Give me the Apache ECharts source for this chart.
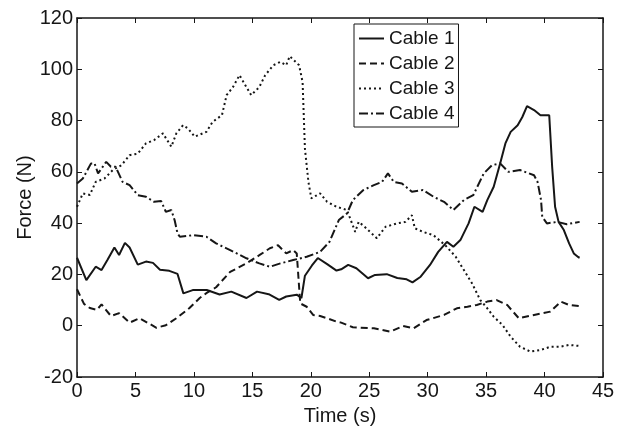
<!DOCTYPE html>
<html>
<head>
<meta charset="utf-8">
<script src="https://cdn.jsdelivr.net/npm/echarts@6/dist/echarts.min.js"></script>
<style>
  html, body { margin: 0; padding: 0; background: #fff; }
  #chart { width: 624px; height: 433px; }
</style>
</head>
<body>
<div id="chart"></div>
<script>
// [time (s), force (N)]
const cable1 = [
  [0, 26.5], [0.8, 17.8], [1.6, 23], [2.1, 21.7], [2.6, 25.6], [3.2, 30.5], [3.6, 27.6],
  [4.1, 32.3], [4.5, 30.5], [5.2, 23.8], [5.9, 25], [6.5, 24.5], [7.1, 21.8], [7.9, 21.4],
  [8.6, 20.2], [9.1, 12.6], [9.9, 13.9], [11.1, 13.9], [12.2, 12.2], [13.2, 13.3], [14.5, 10.8],
  [15.4, 13.3], [16.4, 12.3], [17.3, 10.1], [17.9, 11.4], [18.8, 12.1], [19.2, 10.8],
  [19.5, 19.5], [20.1, 23.5], [20.6, 26.4], [21.4, 24], [22.2, 21.5], [22.6, 22], [23.2, 23.7],
  [23.9, 22.4], [24.9, 18.5], [25.5, 19.8], [26.5, 20.1], [27.4, 18.6], [28.2, 18.1],
  [28.7, 16.9], [29.4, 19.1], [30.2, 23.7], [30.9, 28.8], [31.65, 32.7], [32.2, 30.8],
  [32.8, 33.4], [33.5, 39.9], [34, 46.4], [34.7, 44.4], [35.1, 49], [35.65, 54.2], [36.2, 63.3],
  [36.65, 71.1], [37.1, 75.6], [37.7, 78.2], [38.1, 81.4], [38.5, 85.6], [39.1, 84.1],
  [39.65, 82.1], [40.4, 82.1], [40.65, 62], [40.9, 46.4], [41.2, 40.5], [41.65, 37.3],
  [42.1, 32.1], [42.5, 28.2], [42.9, 26.7], [43, 26.5]
];
const cable2 = [
  [0, 14.2], [0.6, 8.5], [1.1, 6.9], [1.7, 6.2], [2.1, 8.3], [2.9, 3.8], [3.6, 4.9], [4.5, 1.2],
  [5.35, 2.9], [6.1, 1], [6.8, -0.8], [7.6, 0.2], [8.5, 2.9], [9.6, 6.8], [10.5, 10.8],
  [11.1, 12.8], [11.9, 15], [13.1, 21], [14.5, 24.3], [15.6, 27.5], [16.5, 30.2], [17.2, 31.4],
  [17.9, 28.2], [18.5, 29.5], [18.8, 28.2], [19.1, 8.7], [19.65, 7.4], [20.2, 4.2], [20.8, 3.8],
  [21.4, 2.9], [22.2, 1.6], [22.6, 1.2], [23.6, -0.6], [25.4, -1], [26.8, -2.3], [27.9, -0.1],
  [28.8, -1], [29.9, 2.2], [31.4, 4.2], [32.5, 6.8], [33.4, 7.4], [34.2, 8.1], [35.1, 9.4],
  [35.9, 10], [36.8, 8.1], [37.8, 2.9], [39.1, 4.2], [40.5, 5.5], [41.4, 9.4], [42.1, 8.1],
  [43, 7.6]
];
const cable3 = [
  [0, 46.4], [0.5, 51.6], [1.1, 51], [1.6, 56.1], [2.35, 57.4], [3.06, 60.7], [3.8, 62.6],
  [4.5, 66.5], [5.2, 67.1], [5.9, 71.1], [6.6, 72.4], [7.35, 75], [8.07, 69.8], [8.5, 75],
  [9.07, 78.2], [9.5, 76.9], [10.07, 73.7], [11.07, 75.6], [11.6, 79.5], [12.4, 82.1],
  [12.8, 89.9], [13.35, 93.1], [13.9, 97.7], [14.4, 93.8], [14.9, 89.9], [15.6, 93.1],
  [16.1, 97.7], [16.8, 101.6], [17.4, 102.9], [17.9, 101.6], [18.2, 105.1], [19, 101.6],
  [19.3, 95], [19.5, 69], [19.8, 56], [20.05, 49.7], [20.8, 51.6], [21.4, 48.3], [22.2, 46.4],
  [23.1, 45.1], [23.8, 36.6], [24.1, 40.5], [24.6, 38.6], [25.65, 34.1], [26.4, 38.6],
  [27.4, 39.9], [28.1, 40.5], [28.65, 43.1], [28.9, 38], [29.6, 36.6], [30.5, 35.3],
  [31.5, 31.4], [32.4, 26.9], [33.1, 21.7], [33.8, 16.5], [34.5, 10], [35.1, 6.8],
  [35.65, 3.5], [36.4, 0.3], [37.1, -4.3], [37.9, -8.2], [38.8, -10.1], [39.65, -9.5],
  [40.5, -8.2], [41.3, -8.2], [42.1, -7.5], [43, -7.9]
];
const cable4 = [
  [0, 55.5], [0.5, 57.4], [1.2, 63.3], [1.5, 63.3], [1.8, 59.4], [2.5, 63.9], [2.9, 62],
  [3.3, 62], [3.9, 56.1], [4.5, 54.8], [5.2, 50.9], [5.9, 50.3], [6.6, 48.3], [7.2, 48.6],
  [7.6, 44.4], [8.07, 45.1], [8.35, 41.2], [8.6, 36], [8.8, 34.7], [9.9, 35.3], [11.07, 34.7],
  [11.9, 32.1], [13.1, 29.5], [14.5, 26.3], [15.6, 24.3], [16.5, 23], [17.4, 24.3],
  [18.5, 25.6], [19.65, 26.9], [20.8, 28.8], [21.6, 32.7], [22.4, 41.2], [23.1, 43.8],
  [23.6, 49], [24.5, 52.9], [25.4, 54.8], [26.1, 56.1], [26.6, 59.4], [27.1, 56.1],
  [27.8, 55.5], [28.65, 52.2], [29.6, 52.9], [30.5, 50.3], [31.4, 48.3], [32.2, 45.1],
  [33.1, 49], [33.9, 50.9], [34.8, 59.4], [35.5, 62.6], [36.2, 63.3], [36.9, 60],
  [37.9, 60.7], [39.1, 58.7], [39.4, 56.1], [39.7, 49], [39.8, 42.5], [40.2, 39.9],
  [41.1, 40.5], [41.9, 39.6], [43, 40.5]
];

const seriesNames = ['Cable 1', 'Cable 2', 'Cable 3', 'Cable 4'];
const seriesData = [cable1, cable2, cable3, cable4];
const dashTypes = ['solid', [7, 4], [2, 3], [9, 3, 2, 3]];

const INK = '#161616'
const FONT = '"Liberation Sans", Arial, sans-serif'

const tickStyle = { show: true, inside: true, length: 5, lineStyle: { color: INK, width: 1 } }
const lineStyleAxis = { color: INK, width: 1.5 }

const chart = echarts.init(document.getElementById('chart'))

chart.setOption({
  animation: false,
  backgroundColor: '#fff',
  grid: { left: 77, right: 21, top: 18, bottom: 56 },
  legend: {
    orient: 'vertical',
    left: 354,
    top: 24,
    padding: [5, 4, 4, 4],
    itemWidth: 25,
    itemHeight: 10,
    itemGap: 6,
    borderColor: INK,
    borderWidth: 1,
    borderRadius: 0,
    backgroundColor: '#fff',
    itemStyle: { opacity: 0, borderWidth: 0 },
    textStyle: { fontSize: 19, color: INK, fontFamily: FONT },
    data: seriesNames
  },
  xAxis: [{
    type: 'value',
    min: 0,
    max: 45,
    interval: 5,
    position: 'bottom',
    name: 'Time (s)',
    nameLocation: 'middle',
    nameGap: 29,
    nameMoveOverlap: false,
    nameTextStyle: { fontSize: 20, color: INK, fontFamily: FONT },
    axisLine: { onZero: false, lineStyle: lineStyleAxis },
    axisTick: tickStyle,
    axisLabel: { fontSize: 20, color: INK, fontFamily: FONT, margin: 4 },
    splitLine: { show: false }
  }, {
    type: 'value',
    min: 0,
    max: 45,
    interval: 5,
    position: 'top',
    axisLine: { onZero: false, lineStyle: lineStyleAxis },
    axisTick: tickStyle,
    axisLabel: { show: false },
    splitLine: { show: false }
  }],
  yAxis: [{
    type: 'value',
    min: -20,
    max: 120,
    interval: 20,
    position: 'left',
    name: 'Force (N)',
    nameLocation: 'middle',
    nameGap: 42,
    nameMoveOverlap: false,
    nameTextStyle: { fontSize: 20, color: INK, fontFamily: FONT },
    axisLine: { show: true, onZero: false, lineStyle: lineStyleAxis },
    axisTick: tickStyle,
    axisLabel: { fontSize: 20, color: INK, fontFamily: FONT, margin: 4 },
    splitLine: { show: false }
  }, {
    type: 'value',
    min: -20,
    max: 120,
    interval: 20,
    position: 'right',
    axisLine: { show: true, onZero: false, lineStyle: lineStyleAxis },
    axisTick: tickStyle,
    axisLabel: { show: false },
    splitLine: { show: false }
  }],
  series: seriesData.map((data, i) => ({
    name: seriesNames[i],
    type: 'line',
    xAxisIndex: 0,
    yAxisIndex: 0,
    symbol: 'none',
    smooth: false,
    lineStyle: { color: INK, width: 2, type: dashTypes[i] },
    itemStyle: { color: INK },
    data: data
  }))
})
</script>
</body>
</html>
